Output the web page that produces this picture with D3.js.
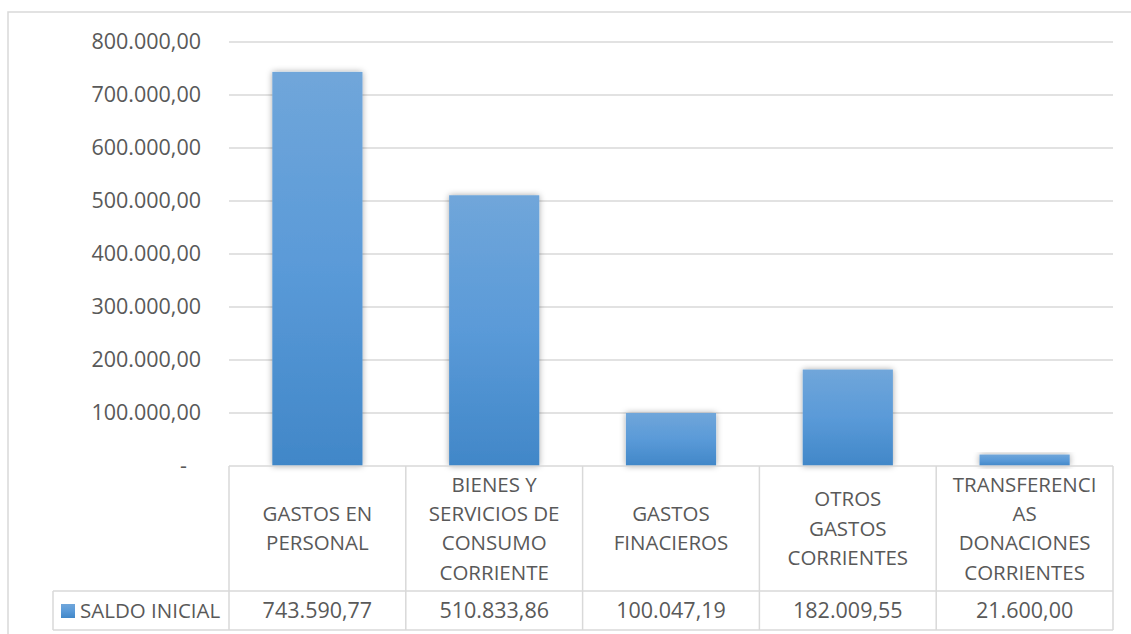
<!DOCTYPE html>
<html>
<head>
<meta charset="utf-8">
<script src="https://cdn.jsdelivr.net/npm/d3@7"></script>
<style>
  body { margin: 0; background: #fff; }
  svg { display: block; font-family: "Open Sans", sans-serif; }
</style>
</head>
<body>
<svg id="chart" width="1131" height="634"></svg>
<script>
// series + categories (line breaks as in the table)
const CATEGORIES = [
    ["GASTOS EN", "PERSONAL"],
    ["BIENES Y", "SERVICIOS DE", "CONSUMO", "CORRIENTE"],
    ["GASTOS", "FINACIEROS"],
    ["OTROS", "GASTOS", "CORRIENTES"],
    ["TRANSFERENCI", "AS", "DONACIONES", "CORRIENTES"]
];
const SALDO_INICIAL = [743590.77, 510833.86, 100047.19, 182009.55, 21600.00];
const SERIES_NAME = "SALDO INICIAL";
const Y_TICKS = [0, 100000, 200000, 300000, 400000, 500000, 600000, 700000, 800000];

const TEXT = "#595959";
const GRID = "#d9d9d9";

const locale = d3.formatLocale({ decimal: ",", thousands: ".", grouping: [3], currency: ["", ""] });
const fmt = locale.format(",.2f");

const svg = d3.select("#chart");

const plotLeft = 229, plotRight = 1113;
const plotTop = 42, plotBottom = 466;
const headerBottom = 591, tableBottom = 630;

const x = d3.scaleBand()
    .domain(d3.range(CATEGORIES.length))
    .range([plotLeft, plotRight])
    .paddingInner(0.49)
    .paddingOuter(0.245);

const col = d3.scaleBand()
    .domain(d3.range(CATEGORIES.length))
    .range([plotLeft, plotRight]);

const y = d3.scaleLinear()
    .domain([0, 800000])
    .range([plotBottom, plotTop]);

// outer frame (clipped by the picture edge)
svg.append("rect")
    .attr("x", 8).attr("y", 12)
    .attr("width", 1140).attr("height", 640)
    .attr("fill", "none")
    .attr("stroke", GRID)
    .attr("stroke-width", 1.5);

const defs = svg.append("defs");
const grad = defs.append("linearGradient")
    .attr("id", "barGrad")
    .attr("x1", 0).attr("y1", 0).attr("x2", 0).attr("y2", 1);
grad.append("stop").attr("offset", "0%").attr("stop-color", "#70a6da");
grad.append("stop").attr("offset", "50%").attr("stop-color", "#5a9ad8");
grad.append("stop").attr("offset", "100%").attr("stop-color", "#4187c8");

const shadow = defs.append("filter")
    .attr("id", "shadow")
    .attr("x", "-20%").attr("y", "-20%").attr("width", "140%").attr("height", "140%");
shadow.append("feDropShadow")
    .attr("dx", 0).attr("dy", 0)
    .attr("stdDeviation", 3)
    .attr("flood-color", "#000")
    .attr("flood-opacity", 0.35);

// gridlines
svg.append("g")
    .selectAll("line")
    .data(Y_TICKS.filter(d => d > 0))
    .enter()
    .append("line")
    .attr("x1", plotLeft).attr("x2", plotRight)
    .attr("y1", d => y(d)).attr("y2", d => y(d))
    .attr("stroke", GRID)
    .attr("stroke-width", 1.5);

// y axis labels
const yAxis = d3.axisLeft(y)
    .tickValues(Y_TICKS)
    .tickSize(0)
    .tickPadding(28)
    .tickFormat(d => d === 0 ? "-" : fmt(d));

svg.append("g")
    .attr("transform", `translate(${plotLeft},0)`)
    .call(yAxis)
    .call(g => g.select(".domain").remove())
    .call(g => g.selectAll("text")
        .attr("fill", TEXT)
        .attr("font-size", 21.5)
        .attr("font-family", "Open Sans, sans-serif"))
    .call(g => g.selectAll(".tick").filter(d => d === 0).select("text").attr("dx", -14));

// bars
svg.append("g")
    .selectAll("rect")
    .data(SALDO_INICIAL)
    .enter()
    .append("rect")
    .attr("x", (d, i) => x(i))
    .attr("y", d => y(d))
    .attr("width", x.bandwidth())
    .attr("height", d => y(0) - y(d))
    .attr("fill", "url(#barGrad)")
    .attr("filter", "url(#shadow)");

// data table
const table = svg.append("g")
    .attr("stroke", GRID)
    .attr("stroke-width", 1.5)
    .attr("fill", "none");

table.append("line")
    .attr("x1", plotLeft).attr("x2", plotRight)
    .attr("y1", plotBottom).attr("y2", plotBottom);
table.append("line")
    .attr("x1", 53).attr("x2", plotRight)
    .attr("y1", headerBottom).attr("y2", headerBottom);
table.append("line")
    .attr("x1", 53).attr("x2", plotRight)
    .attr("y1", tableBottom).attr("y2", tableBottom);
table.append("line")
    .attr("x1", 53).attr("x2", 53)
    .attr("y1", headerBottom).attr("y2", tableBottom);
table.selectAll(".vline")
    .data(d3.range(CATEGORIES.length + 1))
    .enter()
    .append("line")
    .attr("class", "vline")
    .attr("x1", i => i < CATEGORIES.length ? col(i) : plotRight)
    .attr("x2", i => i < CATEGORIES.length ? col(i) : plotRight)
    .attr("y1", plotBottom).attr("y2", tableBottom);

// category labels
const lineH = 29.3;
const headerMid = (plotBottom + headerBottom) / 2;
const labels = svg.append("g")
    .selectAll("text")
    .data(CATEGORIES)
    .enter()
    .append("text")
    .attr("fill", TEXT)
    .attr("font-size", 20.5)
    .attr("text-anchor", "middle");

labels.selectAll("tspan")
    .data((lines, i) => lines.map((l, k) => ({ l, k, n: lines.length, i })))
    .enter()
    .append("tspan")
    .attr("x", d => col(d.i) + col.bandwidth() / 2)
    .attr("y", d => headerMid + (d.k - (d.n - 1) / 2) * lineH)
    .attr("dy", "0.35em")
    .text(d => d.l);

// values row
svg.append("g")
    .selectAll("text")
    .data(SALDO_INICIAL)
    .enter()
    .append("text")
    .attr("x", (d, i) => col(i) + col.bandwidth() / 2)
    .attr("y", (headerBottom + tableBottom) / 2)
    .attr("dy", "0.35em")
    .attr("text-anchor", "middle")
    .attr("fill", TEXT)
    .attr("font-size", 21.5)
    .text(d => fmt(d));

// legend key
svg.append("rect")
    .attr("x", 61).attr("y", 604)
    .attr("width", 14).attr("height", 14)
    .attr("fill", "url(#barGrad)");
svg.append("text")
    .attr("x", 80)
    .attr("y", (headerBottom + tableBottom) / 2)
    .attr("dy", "0.35em")
    .attr("fill", TEXT)
    .attr("font-size", 20.5)
    .text(SERIES_NAME);
</script>
</body>
</html>
